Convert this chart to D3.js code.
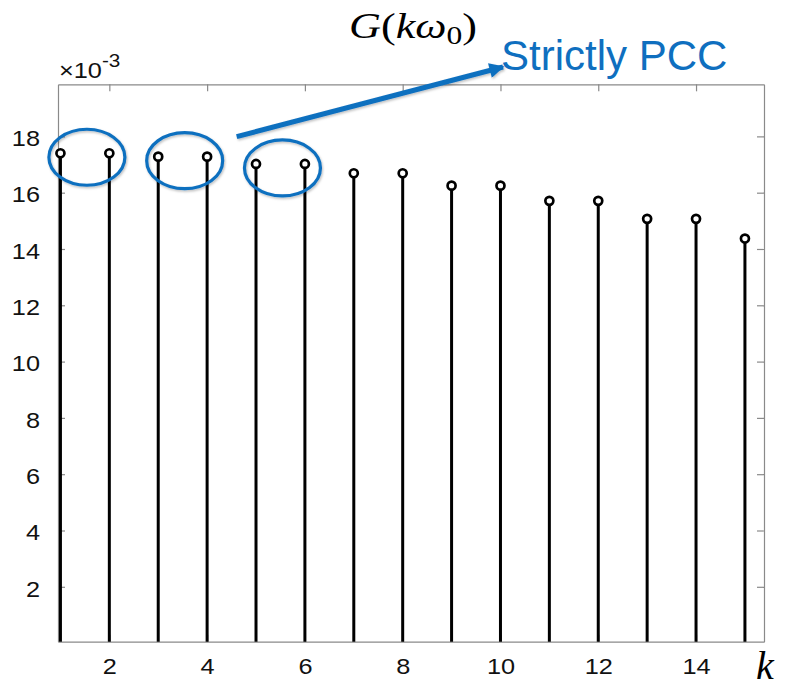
<!DOCTYPE html>
<html>
<head>
<meta charset="utf-8">
<script src="https://cdn.jsdelivr.net/npm/d3@7"></script>
<style>
  html, body { margin: 0; padding: 0; background: #fff; }
  svg { display: block; }
</style>
</head>
<body>
<svg id="chart" width="792" height="689"></svg>
<script>
// Harmonic index k and the gain G(k·ω0) at each harmonic
const harmonics = [1, 2, 3, 4, 5, 6, 7, 8, 9, 10, 11, 12, 13, 14, 15];
const gainValues = [0.01740, 0.01740, 0.01728, 0.01728, 0.01702, 0.01702, 0.01669, 0.01669,
                    0.01625, 0.01625, 0.01571, 0.01571, 0.01507, 0.01507, 0.01437];
const xTickValues = [2, 4, 6, 8, 10, 12, 14];
const yTickValues = [0.002, 0.004, 0.006, 0.008, 0.010, 0.012, 0.014, 0.016, 0.018];
// Harmonic pairs highlighted as strictly PCC
const highlightedPairs = [[1, 2], [3, 4], [5, 6]];
const annotationText = "Strictly PCC";

const svg = d3.select("#chart");
const plot = { left: 58, right: 764, top: 84.3, bottom: 641.7 };
const blue = "#0f6fbf";
const axisGray = "#8a8a8a";
const sans = "'Liberation Sans', Arial, sans-serif";
const serif = "'Liberation Serif', 'Times New Roman', serif";
// The figure's text is drawn slightly wide
const widen = 1.15;

function stretch(sel, factor) {
  sel.each(function () {
    const w = this.getComputedTextLength();
    d3.select(this).attr("textLength", w * factor).attr("lengthAdjust", "spacingAndGlyphs");
  });
}

const x = d3.scaleLinear().domain([0.95, 15.39]).range([plot.left, plot.right]);
const y = d3.scaleLinear().domain([0.00005, 0.01985]).range([plot.bottom, plot.top]);

const defs = svg.append("defs");
defs.append("clipPath").attr("id", "plotClip")
  .append("rect")
  .attr("x", plot.left).attr("y", plot.top)
  .attr("width", plot.right - plot.left).attr("height", plot.bottom - plot.top);

const shadow = defs.append("filter").attr("id", "softShadow")
  .attr("x", "-20%").attr("y", "-20%").attr("width", "140%").attr("height", "140%");
shadow.append("feDropShadow")
  .attr("dx", 1).attr("dy", 1.5).attr("stdDeviation", 1.3)
  .attr("flood-color", "#000").attr("flood-opacity", 0.25);

defs.append("marker").attr("id", "arrowHead")
  .attr("viewBox", "0 0 10 10").attr("refX", 9).attr("refY", 5)
  .attr("markerUnits", "userSpaceOnUse")
  .attr("markerWidth", 17).attr("markerHeight", 15)
  .attr("orient", "auto")
  .append("path").attr("d", "M0,0 L10,5 L0,10 Z").attr("fill", blue);

// Axes box with inward ticks on all four sides
const tickFmt = d => String(Math.round(d * 1000));
const axisStyle = g => {
  g.attr("font-size", null).attr("font-family", null);
  g.select(".domain").attr("stroke", axisGray).attr("stroke-width", 1.2);
  g.selectAll(".tick line").attr("stroke", axisGray).attr("stroke-width", 1.2);
  g.selectAll(".tick text").attr("fill", "#111")
    .style("font-family", sans).style("font-size", "22px");
};

svg.append("g").attr("transform", `translate(0,${plot.bottom})`)
  .call(d3.axisBottom(x).tickValues(xTickValues).tickFormat(d3.format("d"))
        .tickSizeInner(-7).tickSizeOuter(0).tickPadding(17))
  .call(axisStyle)
  .call(g => stretch(g.selectAll(".tick text"), widen));

svg.append("g").attr("transform", `translate(0,${plot.top})`)
  .call(d3.axisTop(x).tickValues(xTickValues).tickFormat("")
        .tickSizeInner(-7).tickSizeOuter(0))
  .call(axisStyle);

svg.append("g").attr("transform", `translate(${plot.left},0)`)
  .call(d3.axisLeft(y).tickValues(yTickValues).tickFormat(tickFmt)
        .tickSizeInner(-7).tickSizeOuter(0).tickPadding(18))
  .call(axisStyle)
  .call(g => g.selectAll(".tick text").attr("dy", "0.42em"))
  .call(g => stretch(g.selectAll(".tick text"), widen));

svg.append("g").attr("transform", `translate(${plot.right},0)`)
  .call(d3.axisRight(y).tickValues(yTickValues).tickFormat("")
        .tickSizeInner(-7).tickSizeOuter(0))
  .call(axisStyle);

// Exponent label
const expo = svg.append("text")
  .attr("x", 59).attr("y", 78)
  .attr("fill", "#111")
  .style("font-family", sans)
  .style("font-size", "22px");
expo.append("tspan").text("\u00d710");
expo.append("tspan").attr("dy", -11).style("font-size", "18px").text("-3");
stretch(expo, widen);

// Stems and open circle markers
const data = harmonics.map((k, i) => ({ k, v: gainValues[i] }));
const stems = svg.append("g").attr("clip-path", "url(#plotClip)");
stems.selectAll("line.stem").data(data).join("line")
  .attr("class", "stem")
  .attr("x1", d => x(d.k)).attr("x2", d => x(d.k))
  .attr("y1", y(0)).attr("y2", d => y(d.v))
  .attr("stroke", "#000").attr("stroke-width", 3);

svg.append("g").selectAll("circle").data(data).join("circle")
  .attr("cx", d => x(d.k)).attr("cy", d => y(d.v))
  .attr("r", 4)
  .attr("fill", "#fff").attr("stroke", "#000").attr("stroke-width", 2.7);

// Title G(kω0)
const title = svg.append("text")
  .attr("x", 349).attr("y", 38)
  .attr("fill", "#000")
  .style("font-family", serif).style("font-size", "35px");
title.append("tspan").style("font-style", "italic").text("G");
title.append("tspan").text("(");
title.append("tspan").style("font-style", "italic").text("k\u03c9");
title.append("tspan").attr("dy", 6).style("font-size", "25px").text("0");
title.append("tspan").attr("dy", -6).text(")");
title.attr("textLength", 128).attr("lengthAdjust", "spacingAndGlyphs");

// x-axis symbol
svg.append("text")
  .attr("x", 756).attr("y", 679)
  .attr("fill", "#000")
  .style("font-family", serif).style("font-style", "italic").style("font-size", "40px")
  .text("k");

// Highlight ellipses around the strictly PCC pairs
const ellipseRx = 38, ellipseRy = 28;
const ellipses = highlightedPairs.map(([a, b]) => {
  const va = gainValues[harmonics.indexOf(a)];
  return { cx: (x(a) + x(b)) / 2 + 2, cy: y(va) + 4 };
});
svg.append("g").attr("filter", "url(#softShadow)")
  .selectAll("ellipse").data(ellipses).join("ellipse")
  .attr("cx", d => d.cx).attr("cy", d => d.cy)
  .attr("rx", ellipseRx).attr("ry", ellipseRy)
  .attr("fill", "none").attr("stroke", blue).attr("stroke-width", 3.2);

// Annotation arrow and text
const anchor = ellipses[1];
const textX = 501, textBase = 70;
svg.append("line")
  .attr("filter", "url(#softShadow)")
  .attr("x1", anchor.cx + ellipseRx + 14).attr("y1", anchor.cy - 24)
  .attr("x2", textX + 2).attr("y2", textBase - 3)
  .attr("stroke", blue).attr("stroke-width", 5)
  .attr("marker-end", "url(#arrowHead)");

svg.append("text")
  .attr("x", textX).attr("y", textBase)
  .attr("fill", blue)
  .style("font-family", sans)
  .style("font-size", "42px")
  .text(annotationText);
</script>
</body>
</html>
